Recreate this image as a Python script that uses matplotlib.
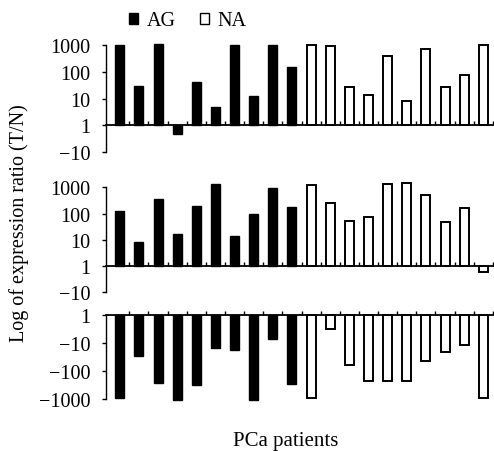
import numpy as np
import matplotlib.pyplot as plt
from matplotlib.patches import Patch

plt.rcParams['font.family'] = ['Liberation Serif', 'DejaVu Serif']
plt.rcParams['font.size'] = 14.5

# log10 of the T/N expression ratio (10 AG + 10 NA patients)
ag_1 = [3.0, 1.46, 3.02, -0.31, 1.61, 0.68, 2.98, 1.09, 3.0, 2.17]
na_1 = [3.0, 2.97, 1.41, 1.14, 2.59, 0.89, 2.83, 1.41, 1.88, 3.0]
ag_2 = [2.11, 0.90, 2.54, 1.21, 2.27, 3.12, 1.14, 2.0, 2.96, 2.26]
na_2 = [3.07, 2.41, 1.73, 1.88, 3.14, 3.18, 2.69, 1.69, 2.21, -0.24]
ag_3 = [-2.98, -1.46, -2.44, -3.02, -2.49, -1.2, -1.25, -3.04, -0.86, -2.47]
na_3 = [-2.98, -0.51, -1.79, -2.37, -2.37, -2.35, -1.64, -1.32, -1.08, -2.95]

pos_ticks = [-1, 0, 1, 2, 3]
pos_labels = ['\u221210', '1', '10', '100', '1000']
neg_ticks = [-3, -2, -1, 0]
neg_labels = ['\u22121000', '\u2212100', '\u221210', '1']

W, H = 494, 452
fig = plt.figure(figsize=(W / 100, H / 100), dpi=100)

def px_rect(top, bottom, left=106, right=494):
    return [left / W, 1 - bottom / H, (right - left) / W, (bottom - top) / H]

panels = [
    (px_rect(45.7, 153.3), ag_1, na_1, (-1, 3), pos_ticks, pos_labels),
    (px_rect(188.3, 293.3), ag_2, na_2, (-1, 3), pos_ticks, pos_labels),
    (px_rect(315.7, 400.0), ag_3, na_3, (-3, 0), neg_ticks, neg_labels),
]

n_ag = len(ag_1)
x = np.arange(n_ag + len(na_1))
bw = 0.47

for rect, ag, na, ylim, ticks, labels in panels:
    ax = fig.add_axes(rect)
    ax.bar(x[:n_ag], ag, width=bw, color='black', edgecolor='black',
           linewidth=1.0, clip_on=False, zorder=2)
    ax.bar(x[n_ag:], na, width=bw, color='white', edgecolor='black',
           linewidth=1.4, clip_on=False, zorder=2)
    ax.set_xlim(-0.72, 19.56)
    ax.set_ylim(*ylim)
    for s in ['top', 'right']:
        ax.spines[s].set_visible(False)
    ax.spines['bottom'].set_position(('data', 0))
    ax.spines['bottom'].set_linewidth(1.3)
    ax.spines['bottom'].set_zorder(3)
    ax.spines['left'].set_linewidth(1.0)
    ax.set_yticks(ticks)
    ax.set_yticklabels(labels)
    ax.set_xticks(x + 0.5)
    ax.set_xticklabels([])
    ax.tick_params(axis='y', direction='out', length=3, width=1, pad=8.5)
    ax.tick_params(axis='x', direction='in', length=3, width=1)

handles = [Patch(facecolor='black', edgecolor='black', label='AG'),
           Patch(facecolor='white', edgecolor='black', linewidth=1.0, label='NA')]
fig.legend(handles=handles, loc='center', bbox_to_anchor=(188 / W, 1 - 22 / H),
           ncol=2, frameon=False, handlelength=0.42, handleheight=0.42,
           handletextpad=0.45, columnspacing=1.2, borderpad=0, fontsize=14.5)

fig.text(19 / W, 1 - 223 / H, 'Log of expression ratio (T/N)', rotation=90,
         ha='center', va='center', fontsize=14.5)
fig.text(286 / W, 1 - 446 / H, 'PCa patients', ha='center', va='baseline',
         fontsize=15)

fig.savefig('out.png', dpi=100)
